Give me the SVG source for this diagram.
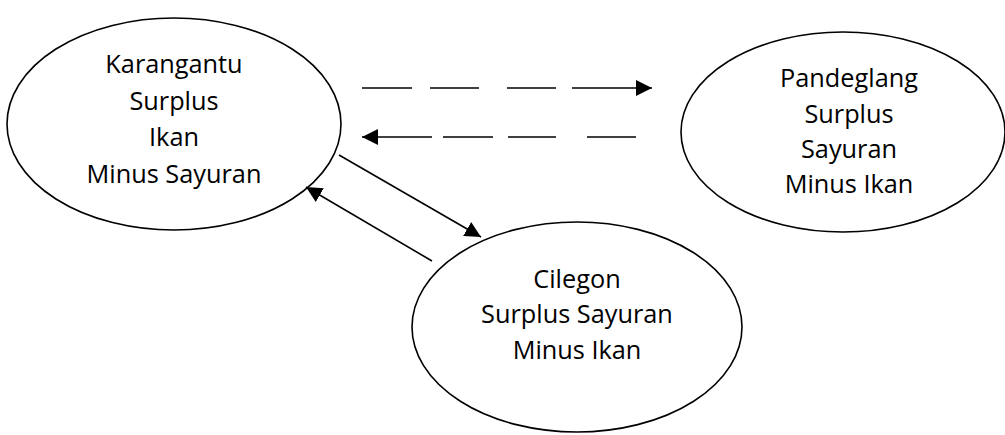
<svg xmlns="http://www.w3.org/2000/svg" width="1005" height="435" viewBox="0 0 1005 435">
<style>
.node ellipse{fill:#fff;stroke:#000;stroke-width:1.6}
.node text{font-family:"Open Sans","Liberation Sans",sans-serif;font-size:25.3px;fill:#000;text-anchor:middle}
.conn line{stroke:#000;stroke-width:1.6}
</style>
<defs>
<marker id="ahL" viewBox="0 0 16 16" refX="16" refY="8" markerWidth="16" markerHeight="16" markerUnits="userSpaceOnUse" orient="auto">
<path d="M0,0 L16,8 L0,16 z" fill="#000"/>
</marker>
</defs>
<rect width="1005" height="435" fill="#fff"/>
<g id="karangantu" class="node">
<ellipse cx="174" cy="124" rx="167" ry="106"/>
<text x="174" y="73">Karangantu</text>
<text x="174" y="110">Surplus</text>
<text x="174" y="146">Ikan</text>
<text x="174" y="183">Minus Sayuran</text>
</g>
<g id="pandeglang" class="node">
<ellipse cx="843" cy="132" rx="162" ry="100"/>
<text x="849" y="87">Pandeglang</text>
<text x="849" y="123">Surplus</text>
<text x="849" y="158">Sayuran</text>
<text x="849" y="193">Minus Ikan</text>
</g>
<g id="cilegon" class="node">
<ellipse cx="577" cy="327" rx="165" ry="105"/>
<text x="577" y="288">Cilegon</text>
<text x="577" y="323">Surplus Sayuran</text>
<text x="577" y="359">Minus Ikan</text>
</g>
<g id="connectors" class="conn">
<line x1="362" y1="88" x2="412" y2="88"/>
<line x1="430" y1="88" x2="479" y2="88"/>
<line x1="507" y1="88" x2="556" y2="88"/>
<line x1="572" y1="88" x2="652" y2="88" marker-end="url(#ahL)"/>
<line x1="432" y1="137" x2="362" y2="137" marker-end="url(#ahL)"/>
<line x1="443" y1="137" x2="493" y2="137"/>
<line x1="508" y1="137" x2="556" y2="137"/>
<line x1="587" y1="137" x2="636" y2="137"/>
<line x1="339" y1="155" x2="481" y2="237" marker-end="url(#ahL)"/>
<line x1="432" y1="261" x2="306" y2="187" marker-end="url(#ahL)"/>
</g>
</svg>
